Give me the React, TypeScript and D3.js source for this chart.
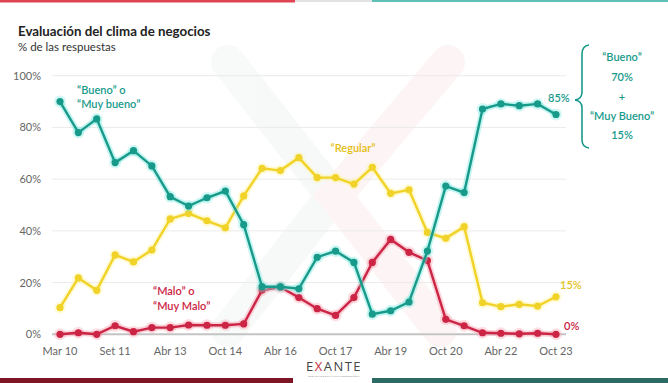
import React from "react";
import * as d3 from "d3";

const categories = [
  "Mar 10","Set 10","Mar 11","Set 11","Mar 12","Set 12","Abr 13","Oct 13","Abr 14","Oct 14",
  "Abr 15","Oct 15","Abr 16","Oct 16","Abr 17","Oct 17","Abr 18","Oct 18","Abr 19","Oct 19",
  "Abr 20","Oct 20","Abr 21","Oct 21","Abr 22","Oct 22","Abr 23","Oct 23",
];
const tickLabels = ["Mar 10","Set 11","Abr 13","Oct 14","Abr 16","Oct 17","Abr 19","Oct 20","Abr 22","Oct 23"];
const yTicks = [0, 20, 40, 60, 80, 100];

const bueno = [90, 78, 83.3, 66.4, 71, 65.1, 53.2, 49.6, 52.8, 55.4, 42.4, 18.4, 18.4, 17.6, 29.8, 32.2, 27.8, 7.8, 9.1, 12.5, 32.2, 57.3, 54.8, 87.1, 89.1, 88.4, 89.1, 85];
const regular = [10.3, 21.8, 17, 30.7, 28, 32.6, 44.6, 46.8, 43.9, 41.2, 53.5, 64.2, 63.3, 68.3, 60.6, 60.6, 58.1, 64.6, 54.5, 55.9, 39.4, 37.1, 41.6, 12.2, 10.7, 11.6, 10.9, 14.5];
const malo = [0, 0.6, 0, 3.3, 1, 2.6, 2.6, 3.6, 3.5, 3.5, 4, 17.1, 18.2, 14.2, 9.9, 7.3, 14.2, 27.8, 36.7, 31.7, 28.5, 5.8, 3.3, 0.6, 0.4, 0.2, 0.4, 0];

const TEAL = "#189a8b";
const YELLOW = "#f0d228";
const RED = "#cc2444";
const FONT = "Lato, 'Open Sans', sans-serif";

export default function App() {
  const W = 668, H = 383;
  const x = d3.scalePoint<string>().domain(categories).range([60, 556]);
  const y = d3.scaleLinear().domain([0, 100]).range([334.3, 75.7]);
  const line = d3.line<number>().x((_, i) => x(categories[i]) as number).y((d) => y(d));

  const series = [
    { data: regular, color: YELLOW, glow: "#fff3a0" },
    { data: malo, color: RED, glow: "#f7a0b0" },
    { data: bueno, color: TEAL, glow: "#7fe8e0" },
  ];

  return (
    <svg width={W} height={H} style={{ position: "absolute", left: 0, top: 0, background: "#fff" }} fontFamily={FONT}>
      <rect x={0} y={0} width={W} height={H} fill="#fff" />
      {/* top bar */}
      <rect x={0} y={0} width={295} height={2.5} fill="#e04452" />
      <rect x={295} y={0} width={77} height={2} fill="#e2e2e2" />
      <rect x={372} y={0} width={296} height={2} fill="#5fc1b6" />
      {/* watermark X */}
      <g opacity={0.045} strokeLinecap="round" fill="none" strokeWidth={34}>
        <path d="M228,62 L333,196 L228,330" stroke="#4f8a70" />
        <path d="M448,62 L335,196 L440,330" stroke="#e0303c" />
      </g>
      {/* title */}
      <text x={18} y={36} fontSize={13.3} fontWeight={700} fill="#222">Evaluación del clima de negocios</text>
      <text x={18} y={51} fontSize={11.5} fill="#333">% de las respuestas</text>
      {/* grid */}
      {yTicks.map((t) => (
        <g key={t}>
          <line x1={52} x2={566} y1={y(t)} y2={y(t)} stroke={t === 0 ? "#c4c4c4" : "#ebebeb"} strokeWidth={t === 0 ? 2 : 1} />
          <text x={41} y={y(t) + 4} fontSize={11} fill="#666" textAnchor="end">{t}%</text>
        </g>
      ))}
      {tickLabels.map((l) => (
        <text key={l} x={x(l) as number} y={355} fontSize={11} fill="#666" textAnchor="middle">{l}</text>
      ))}
      {/* lines */}
      {series.map((s, k) => (
        <g key={k}>
          <path d={line(s.data) || ""} fill="none" stroke={s.glow} strokeWidth={6} opacity={0.45} />
          {s.data.map((v, i) => (
            <circle key={"g" + i} cx={x(categories[i]) as number} cy={y(v)} r={6} fill={s.glow} opacity={0.35} />
          ))}
          <path d={line(s.data) || ""} fill="none" stroke={s.color} strokeWidth={2.4} />
          {s.data.map((v, i) => (
            <circle key={i} cx={x(categories[i]) as number} cy={y(v)} r={3.6} fill={s.color} />
          ))}
        </g>
      ))}
      {/* annotations */}
      <g fontSize={11} fontWeight={600}>
        <text x={77} y={94} fill={TEAL}>“Bueno” o</text>
        <text x={77} y={108} fill={TEAL}>“Muy bueno”</text>
        <text x={353} y={152} fill="#e3bd14" textAnchor="middle">“Regular”</text>
        <text x={153} y={295} fill={RED}>“Malo” o</text>
        <text x={153} y={310} fill={RED}>“Muy Malo”</text>
        <text x={548} y={102} fill={TEAL}>85%</text>
        <text x={560} y={289} fill="#e3c225">15%</text>
        <text x={564} y={330} fill={RED}>0%</text>
        <text x={622} y={61} fill={TEAL} textAnchor="middle">“Bueno”</text>
        <text x={622} y={81} fill={TEAL} textAnchor="middle">70%</text>
        <text x={622} y={101} fill={TEAL} textAnchor="middle">+</text>
        <text x={622} y={120} fill={TEAL} textAnchor="middle">“Muy Bueno”</text>
        <text x={622} y={139} fill={TEAL} textAnchor="middle">15%</text>
      </g>
      {/* brace */}
      <path
        d="M589,45 Q582,46 582,54 L582,92 Q582,99 575,100 Q582,101 582,108 L582,140 Q582,147 589,148"
        fill="none" stroke={TEAL} strokeWidth={1.6}
      />
      {/* logo */}
      <text x={334} y={370.5} fontSize={13} textAnchor="middle" fill="#444" letterSpacing={1.5} fontFamily="'Open Sans', sans-serif">
        E<tspan fill="#c0303c">X</tspan>ANTE
      </text>
      <text x={334} y={377.2} fontSize={2.6} textAnchor="middle" fill="#888">ECONOMICS &amp; FINANCIAL CORPORATION</text>
      {/* bottom bar */}
      <rect x={0} y={378} width={293} height={5} fill="#7e1526" />
      <rect x={372} y={378} width={296} height={5} fill="#2c6a64" />
    </svg>
  );
}
